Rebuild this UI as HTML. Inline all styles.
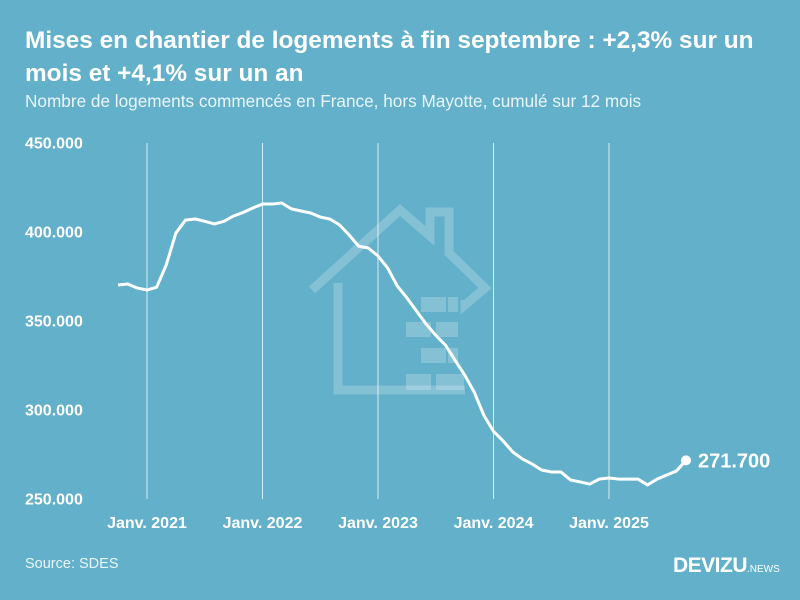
<!DOCTYPE html>
<html><head><meta charset="utf-8"><style>
body{margin:0;width:800px;height:600px;background:#62b0ca;font-family:"Liberation Sans",sans-serif;overflow:hidden;position:relative}
.t{position:absolute;left:25px;top:24px;color:#fff;font-weight:bold;font-size:24.4px;line-height:33px;width:745px}
.s{position:absolute;left:25px;top:91px;color:#eaf5f9;font-size:17.2px}
.src{position:absolute;left:25px;top:556px;color:#eaf5f9;font-size:14.5px}
</style></head><body>
<div class="t">Mises en chantier de logements à fin septembre : +2,3% sur un mois et +4,1% sur un an</div>
<div class="s">Nombre de logements commencés en France, hors Mayotte, cumulé sur 12 mois</div>
<div class="src">Source: SDES</div>
<svg id="c" width="800" height="600" style="position:absolute;left:0;top:0">
<g fill="none" stroke="rgba(255,255,255,0.22)" stroke-width="9">
<polyline points="338,283 338,390 465,390"/>
<polyline points="312,290 400,210 430,236 430,212 449,212 449,253 485,288 465,305 465,300"/>
<g fill="rgba(255,255,255,0.22)" stroke="none">
<rect x="421" y="297" width="25" height="15"/><rect x="448" y="297" width="10" height="15"/>
<rect x="406" y="322" width="25" height="15"/><rect x="436" y="322" width="22" height="15"/>
<rect x="421" y="348" width="25" height="15"/><rect x="448" y="348" width="10" height="15"/>
<rect x="406" y="374" width="25" height="16"/><rect x="436" y="374" width="28" height="16"/>
</g></g>
</svg>
<div style="position:absolute;left:673px;top:554px;color:#fff;font-weight:bold;font-size:21px;letter-spacing:-0.5px">DEVIZU<span style="font-weight:normal;font-size:10px;letter-spacing:0">.NEWS</span></div>
<script>
const yTicks=[250000,300000,350000,400000,450000];
const yLabels=["250.000","300.000","350.000","400.000","450.000"];
const xYears=[2021,2022,2023,2024,2025];
const startYear=2020, startMonth=9; // Oct 2020 (0-based month)
const values=[370200,370800,368500,367400,369000,381500,399400,406700,407300,406000,404500,406000,409000,411000,413500,415700,415700,416300,413000,411800,410700,408400,407300,404000,398300,392000,391000,386500,379800,369700,363000,355600,348300,342000,336500,328000,319700,310000,297000,288000,282600,276400,272500,269700,266300,265200,265200,260700,259600,258400,261200,261800,261200,261200,261200,257900,261200,263500,265700,271700];
const lastLabel="271.700";
const svg=document.getElementById('c');const NS="http://www.w3.org/2000/svg";
const y=v=>499-(v-250000)*356/200000;
const x=i=>{const m=startYear*12+startMonth+i;return 147+(m-2021*12)*115.5/12;};
const xm=yr=>147+(yr-2021)*115.5;
function el(t,a,p){const e=document.createElementNS(NS,t);for(const k in a)e.setAttribute(k,a[k]);(p||svg).appendChild(e);return e;}
yTicks.forEach((v,i)=>{const t=el('text',{x:25,y:y(v)+5.5,fill:'#fff','font-size':16,'font-weight':'bold'});t.textContent=yLabels[i];

});
xYears.forEach(yr=>{const l=el('line',{x1:xm(yr),x2:xm(yr),y1:143,y2:499,stroke:'rgba(255,255,255,0.75)','stroke-width':1});


const t=el('text',{x:xm(yr),y:528,fill:'#fff','font-size':16,'font-weight':'bold','text-anchor':'middle'});t.textContent='Janv. '+yr;

});
const p=el('polyline',{points:values.map((v,i)=>x(i)+','+y(v)).join(' '),fill:'none',stroke:'#fff','stroke-width':3,'stroke-linejoin':'round'});


const n=values.length-1;
const d=el('circle',{cx:x(n),cy:y(values[n]),r:5,fill:'#fff'});


const lt=el('text',{x:x(n)+12,y:y(values[n])+7,fill:'#fff','font-size':20,'font-weight':'bold'});lt.textContent=lastLabel;


</script>
</body></html>
